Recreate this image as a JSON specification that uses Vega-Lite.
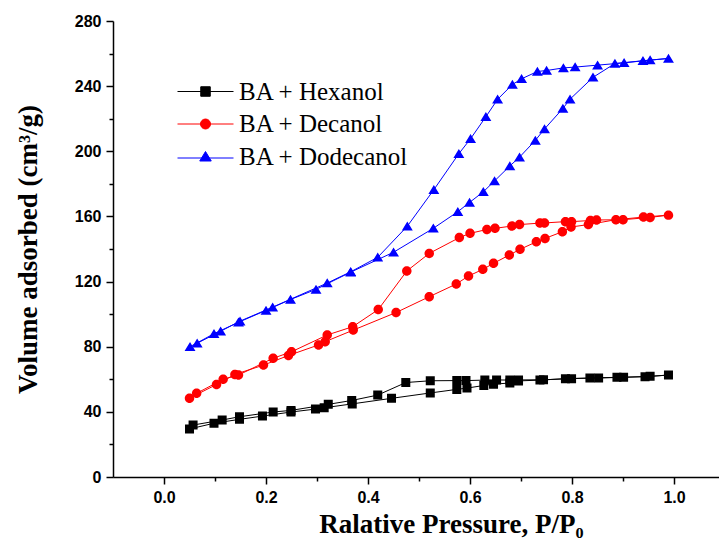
{
  "$schema": "https://vega.github.io/schema/vega-lite/v6.json",
  "width": 607,
  "height": 456,
  "autosize": {"type": "none"},
  "padding": {"left": 113, "top": 21, "right": 0, "bottom": 66},
  "background": "white",
  "config": {
    "view": {"stroke": null},
    "axis": {
      "domainColor": "#000000", "domainWidth": 1.5,
      "tickColor": "#000000", "tickWidth": 1.5,
      "labelFont": "Liberation Sans", "labelFontWeight": "bold", "labelFontSize": 16, "labelColor": "#000000",
      "titleFont": "Liberation Serif", "titleFontWeight": "bold", "titleFontSize": 27, "titleColor": "#000000",
      "grid": false, "labelOverlap": false, "labelFlush": false
    }
  },
  "data": {"values": [
    {"s":"BA + Hexanol","p":0.05,"v":29.5,"o":1},
    {"s":"BA + Hexanol","p":0.098,"v":33,"o":2},
    {"s":"BA + Hexanol","p":0.148,"v":35.4,"o":3},
    {"s":"BA + Hexanol","p":0.193,"v":37.4,"o":4},
    {"s":"BA + Hexanol","p":0.249,"v":39.9,"o":5},
    {"s":"BA + Hexanol","p":0.297,"v":41.7,"o":6},
    {"s":"BA + Hexanol","p":0.314,"v":42.5,"o":7},
    {"s":"BA + Hexanol","p":0.369,"v":44.9,"o":8},
    {"s":"BA + Hexanol","p":0.446,"v":48.3,"o":9},
    {"s":"BA + Hexanol","p":0.522,"v":51.6,"o":10},
    {"s":"BA + Hexanol","p":0.574,"v":53.8,"o":11},
    {"s":"BA + Hexanol","p":0.594,"v":54.6,"o":12},
    {"s":"BA + Hexanol","p":0.627,"v":56.2,"o":13},
    {"s":"BA + Hexanol","p":0.646,"v":57,"o":14},
    {"s":"BA + Hexanol","p":0.678,"v":57.7,"o":15},
    {"s":"BA + Hexanol","p":0.695,"v":59,"o":16},
    {"s":"BA + Hexanol","p":0.737,"v":59.5,"o":17},
    {"s":"BA + Hexanol","p":0.787,"v":60.4,"o":18},
    {"s":"BA + Hexanol","p":0.835,"v":60.8,"o":19},
    {"s":"BA + Hexanol","p":0.888,"v":61.2,"o":20},
    {"s":"BA + Hexanol","p":0.943,"v":61.6,"o":21},
    {"s":"BA + Hexanol","p":0.989,"v":62.6,"o":22},
    {"s":"BA + Hexanol","p":0.953,"v":61.8,"o":23},
    {"s":"BA + Hexanol","p":0.901,"v":61.2,"o":24},
    {"s":"BA + Hexanol","p":0.852,"v":60.8,"o":25},
    {"s":"BA + Hexanol","p":0.799,"v":60.4,"o":26},
    {"s":"BA + Hexanol","p":0.744,"v":59.7,"o":27},
    {"s":"BA + Hexanol","p":0.695,"v":59.6,"o":28},
    {"s":"BA + Hexanol","p":0.678,"v":59.5,"o":29},
    {"s":"BA + Hexanol","p":0.652,"v":59.6,"o":30},
    {"s":"BA + Hexanol","p":0.629,"v":59.5,"o":31},
    {"s":"BA + Hexanol","p":0.592,"v":59.2,"o":32},
    {"s":"BA + Hexanol","p":0.574,"v":59.2,"o":33},
    {"s":"BA + Hexanol","p":0.522,"v":59.1,"o":34},
    {"s":"BA + Hexanol","p":0.474,"v":58,"o":35},
    {"s":"BA + Hexanol","p":0.419,"v":50.3,"o":36},
    {"s":"BA + Hexanol","p":0.368,"v":47,"o":37},
    {"s":"BA + Hexanol","p":0.322,"v":44.6,"o":38},
    {"s":"BA + Hexanol","p":0.249,"v":40.9,"o":39},
    {"s":"BA + Hexanol","p":0.214,"v":39.9,"o":40},
    {"s":"BA + Hexanol","p":0.148,"v":37,"o":41},
    {"s":"BA + Hexanol","p":0.114,"v":35,"o":42},
    {"s":"BA + Hexanol","p":0.057,"v":31.9,"o":43},

    {"s":"BA + Decanol","p":0.05,"v":48.4,"o":1},
    {"s":"BA + Decanol","p":0.103,"v":56.8,"o":2},
    {"s":"BA + Decanol","p":0.139,"v":63,"o":3},
    {"s":"BA + Decanol","p":0.195,"v":68.7,"o":4},
    {"s":"BA + Decanol","p":0.244,"v":74.6,"o":5},
    {"s":"BA + Decanol","p":0.303,"v":81.1,"o":6},
    {"s":"BA + Decanol","p":0.316,"v":83.1,"o":7},
    {"s":"BA + Decanol","p":0.371,"v":90.2,"o":8},
    {"s":"BA + Decanol","p":0.455,"v":101,"o":9},
    {"s":"BA + Decanol","p":0.52,"v":110.7,"o":10},
    {"s":"BA + Decanol","p":0.573,"v":118.5,"o":11},
    {"s":"BA + Decanol","p":0.597,"v":123.4,"o":12},
    {"s":"BA + Decanol","p":0.625,"v":127.5,"o":13},
    {"s":"BA + Decanol","p":0.646,"v":131.2,"o":14},
    {"s":"BA + Decanol","p":0.677,"v":136.3,"o":15},
    {"s":"BA + Decanol","p":0.698,"v":139.8,"o":16},
    {"s":"BA + Decanol","p":0.73,"v":144.4,"o":17},
    {"s":"BA + Decanol","p":0.747,"v":146.5,"o":18},
    {"s":"BA + Decanol","p":0.781,"v":150.6,"o":19},
    {"s":"BA + Decanol","p":0.798,"v":153.5,"o":20},
    {"s":"BA + Decanol","p":0.832,"v":155,"o":21},
    {"s":"BA + Decanol","p":0.886,"v":158,"o":22},
    {"s":"BA + Decanol","p":0.94,"v":159.6,"o":23},
    {"s":"BA + Decanol","p":0.989,"v":160.8,"o":24},
    {"s":"BA + Decanol","p":0.953,"v":159.4,"o":25},
    {"s":"BA + Decanol","p":0.9,"v":158,"o":26},
    {"s":"BA + Decanol","p":0.848,"v":157.8,"o":27},
    {"s":"BA + Decanol","p":0.836,"v":157.5,"o":28},
    {"s":"BA + Decanol","p":0.799,"v":156.8,"o":29},
    {"s":"BA + Decanol","p":0.787,"v":156.8,"o":30},
    {"s":"BA + Decanol","p":0.746,"v":156,"o":31},
    {"s":"BA + Decanol","p":0.737,"v":155.9,"o":32},
    {"s":"BA + Decanol","p":0.697,"v":155,"o":33},
    {"s":"BA + Decanol","p":0.682,"v":154.1,"o":34},
    {"s":"BA + Decanol","p":0.649,"v":152.7,"o":35},
    {"s":"BA + Decanol","p":0.633,"v":152,"o":36},
    {"s":"BA + Decanol","p":0.6,"v":149.6,"o":37},
    {"s":"BA + Decanol","p":0.579,"v":147,"o":38},
    {"s":"BA + Decanol","p":0.52,"v":137.3,"o":39},
    {"s":"BA + Decanol","p":0.476,"v":126.5,"o":40},
    {"s":"BA + Decanol","p":0.42,"v":102.8,"o":41},
    {"s":"BA + Decanol","p":0.37,"v":92.3,"o":42},
    {"s":"BA + Decanol","p":0.32,"v":87.2,"o":43},
    {"s":"BA + Decanol","p":0.25,"v":76.9,"o":44},
    {"s":"BA + Decanol","p":0.214,"v":72.9,"o":45},
    {"s":"BA + Decanol","p":0.146,"v":62.6,"o":46},
    {"s":"BA + Decanol","p":0.116,"v":60,"o":47},
    {"s":"BA + Decanol","p":0.064,"v":51.4,"o":48},

    {"s":"BA + Dodecanol","p":0.051,"v":80,"o":1},
    {"s":"BA + Dodecanol","p":0.098,"v":88,"o":2},
    {"s":"BA + Dodecanol","p":0.146,"v":95,"o":3},
    {"s":"BA + Dodecanol","p":0.2,"v":102.3,"o":4},
    {"s":"BA + Dodecanol","p":0.248,"v":109,"o":5},
    {"s":"BA + Dodecanol","p":0.298,"v":115.2,"o":6},
    {"s":"BA + Dodecanol","p":0.366,"v":125.8,"o":7},
    {"s":"BA + Dodecanol","p":0.45,"v":138,"o":8},
    {"s":"BA + Dodecanol","p":0.528,"v":152.7,"o":9},
    {"s":"BA + Dodecanol","p":0.576,"v":162.9,"o":10},
    {"s":"BA + Dodecanol","p":0.599,"v":168.6,"o":11},
    {"s":"BA + Dodecanol","p":0.626,"v":175.1,"o":12},
    {"s":"BA + Dodecanol","p":0.648,"v":181.8,"o":13},
    {"s":"BA + Dodecanol","p":0.678,"v":191,"o":14},
    {"s":"BA + Dodecanol","p":0.697,"v":196.4,"o":15},
    {"s":"BA + Dodecanol","p":0.728,"v":206.7,"o":16},
    {"s":"BA + Dodecanol","p":0.746,"v":213.7,"o":17},
    {"s":"BA + Dodecanol","p":0.782,"v":226.3,"o":18},
    {"s":"BA + Dodecanol","p":0.796,"v":232,"o":19},
    {"s":"BA + Dodecanol","p":0.841,"v":245.4,"o":20},
    {"s":"BA + Dodecanol","p":0.884,"v":253.9,"o":21},
    {"s":"BA + Dodecanol","p":0.939,"v":255.6,"o":22},
    {"s":"BA + Dodecanol","p":0.989,"v":257,"o":23},
    {"s":"BA + Dodecanol","p":0.953,"v":256,"o":24},
    {"s":"BA + Dodecanol","p":0.902,"v":254.3,"o":25},
    {"s":"BA + Dodecanol","p":0.85,"v":252.9,"o":26},
    {"s":"BA + Dodecanol","p":0.806,"v":251.7,"o":27},
    {"s":"BA + Dodecanol","p":0.783,"v":251.2,"o":28},
    {"s":"BA + Dodecanol","p":0.75,"v":249.6,"o":29},
    {"s":"BA + Dodecanol","p":0.732,"v":249,"o":30},
    {"s":"BA + Dodecanol","p":0.701,"v":244.5,"o":31},
    {"s":"BA + Dodecanol","p":0.683,"v":241,"o":32},
    {"s":"BA + Dodecanol","p":0.654,"v":231.9,"o":33},
    {"s":"BA + Dodecanol","p":0.631,"v":221.2,"o":34},
    {"s":"BA + Dodecanol","p":0.601,"v":207.7,"o":35},
    {"s":"BA + Dodecanol","p":0.578,"v":198.5,"o":36},
    {"s":"BA + Dodecanol","p":0.529,"v":176.4,"o":37},
    {"s":"BA + Dodecanol","p":0.477,"v":154,"o":38},
    {"s":"BA + Dodecanol","p":0.419,"v":134.9,"o":39},
    {"s":"BA + Dodecanol","p":0.366,"v":126,"o":40},
    {"s":"BA + Dodecanol","p":0.32,"v":119.1,"o":41},
    {"s":"BA + Dodecanol","p":0.213,"v":104.3,"o":42},
    {"s":"BA + Dodecanol","p":0.149,"v":95.7,"o":43},
    {"s":"BA + Dodecanol","p":0.111,"v":89.5,"o":44},
    {"s":"BA + Dodecanol","p":0.065,"v":82.1,"o":45}
  ]},
  "encoding": {
    "x": {
      "field": "p", "type": "quantitative",
      "scale": {"domain": [-0.1, 1.09], "nice": false, "zero": false},
      "axis": {
        "title": "Ralative Pressure, P/P₀",
        "titleX": 338,
        "values": [0, 0.1, 0.2, 0.3, 0.4, 0.5, 0.6, 0.7, 0.8, 0.9, 1.0],
        "labelExpr": "abs(datum.value*5 - round(datum.value*5)) < 0.000001 ? format(datum.value, '.1f') : ''",
        "tickSize": {"condition": {"test": "abs(datum.value*5 - round(datum.value*5)) < 0.000001", "value": 7}, "value": 4},
        "labelPadding": 5,
        "titlePadding": 6
      }
    },
    "y": {
      "field": "v", "type": "quantitative",
      "scale": {"domain": [0, 280], "nice": false},
      "axis": {
        "title": "Volume adsorbed (cm³/g)",
        "values": [0, 20, 40, 60, 80, 100, 120, 140, 160, 180, 200, 220, 240, 260, 280],
        "labelExpr": "datum.value % 40 === 0 ? datum.label : ''",
        "tickSize": {"condition": {"test": "datum.value % 40 === 0", "value": 7}, "value": 4},
        "labelPadding": 5,
        "titlePadding": 32
      }
    },
    "order": {"field": "o", "type": "quantitative"}
  },
  "layer": [
    {
      "mark": {"type": "line", "strokeWidth": 1},
      "encoding": {
        "stroke": {
          "field": "s", "type": "nominal",
          "scale": {"domain": ["BA + Decanol", "BA + Hexanol", "BA + Dodecanol"], "range": ["#ff0000", "#000000", "#0000ff"]},
          "legend": null
        }
      }
    },
    {
      "mark": {"type": "point", "filled": true, "opacity": 1, "size": 90, "strokeWidth": 0},
      "encoding": {
        "color": {
          "field": "s", "type": "nominal",
          "scale": {"domain": ["BA + Hexanol", "BA + Decanol", "BA + Dodecanol"], "range": ["#000000", "#ff0000", "#0000ff"]},
          "legend": {
            "title": null, "orient": "none", "legendX": 80, "legendY": 58,
            "labelFont": "Liberation Serif", "labelFontSize": 25, "labelColor": "#000000", "labelLimit": 0,
            "labelOffset": 21, "symbolSize": 100, "rowPadding": 6.5, "padding": 0,
            "symbolStrokeWidth": 1, "symbolOpacity": 1,
            "encode": {"symbols": {"update": {
              "stroke": {"scale": "color", "field": "value"},
              "strokeWidth": {"value": 1},
              "opacity": {"value": 1}
            }}}
          }
        },
        "shape": {
          "field": "s", "type": "nominal",
          "scale": {"domain": ["BA + Hexanol", "BA + Decanol", "BA + Dodecanol"],
            "range": [
              "M-5.6,0H5.6M-0.95,-0.95H0.95V0.95H-0.95Z",
              "M-5.6,0H5.6M-1,0A1,1,0,1,1,1,0A1,1,0,1,1,-1,0Z",
              "M-5.6,0.3H5.6M0,-1L1.15,0.9H-1.15Z"
            ]},
          "legend": {
            "title": null, "orient": "none", "legendX": 80, "legendY": 58,
            "labelFont": "Liberation Serif", "labelFontSize": 25, "labelColor": "#000000", "labelLimit": 0,
            "labelOffset": 21, "symbolSize": 100, "rowPadding": 6.5, "padding": 0,
            "symbolStrokeWidth": 1, "symbolOpacity": 1,
            "encode": {"symbols": {"update": {
              "stroke": {"scale": "color", "field": "value"},
              "strokeWidth": {"value": 1},
              "opacity": {"value": 1}
            }}}
          }
        }
      }
    }
  ]
}
